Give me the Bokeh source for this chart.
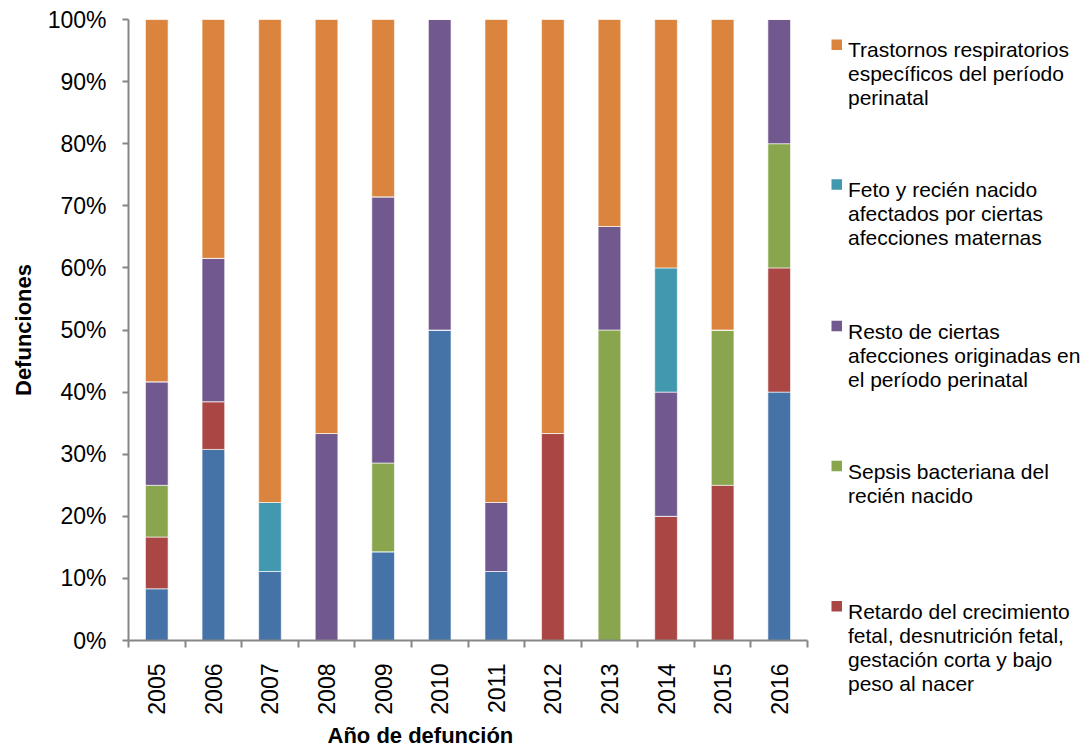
import math
from bokeh.plotting import figure
from bokeh.layouts import row
from bokeh.models import (ColumnDataSource, Range1d, FixedTicker, PrintfTickFormatter, Title)
from bokeh.core.properties import value
from bokeh.embed import file_html
from bokeh.resources import INLINE

# ---------------- data (percent of deaths per year) ----------------
years = ["2005", "2006", "2007", "2008", "2009", "2010",
         "2011", "2012", "2013", "2014", "2015", "2016"]

# stack order bottom -> top
otras = [8.33, 30.77, 11.11, 0, 14.29, 50, 11.11, 0, 0, 0, 0, 40]          # blue (entry not visible)
retardo = [8.33, 7.69, 0, 0, 0, 0, 0, 33.33, 0, 20, 25, 20]                 # red
sepsis = [8.33, 0, 0, 0, 14.29, 0, 0, 0, 50, 0, 25, 20]                     # green
resto = [16.67, 23.08, 0, 33.33, 42.86, 50, 11.11, 0, 16.67, 20, 0, 20]     # purple
feto = [0, 0, 11.11, 0, 0, 0, 0, 0, 0, 20, 0, 0]                            # teal
trastornos = [58.33, 38.46, 77.78, 66.67, 28.57, 0, 77.78, 66.67, 33.33, 40, 50, 0]  # orange

series_keys = ["otras", "retardo", "sepsis", "resto", "feto", "trastornos"]
series_colors = ["#4572A7", "#AA4643", "#89A54E", "#71588F", "#4198AF", "#DB843D"]

y_ticks = [0, 10, 20, 30, 40, 50, 60, 70, 80, 90, 100]

legend_colors = ["#DB843D", "#4198AF", "#71588F", "#89A54E", "#AA4643"]
legend_lines = [
    ["Trastornos respiratorios", "específicos del período", "perinatal"],
    ["Feto y recién nacido", "afectados por ciertas", "afecciones maternas"],
    ["Resto de ciertas", "afecciones originadas en", "el período perinatal"],
    ["Sepsis bacteriana del", "recién nacido"],
    ["Retardo del crecimiento", "fetal, desnutrición fetal,",
     "gestación corta y bajo", "peso al nacer"],
]

x_title = "Año de defunción"
y_title = "Defunciones"

# ---------------- main chart ----------------
n = len(years)
centers = [i + 0.5 for i in range(n)]
bounds = list(range(n + 1))

source = ColumnDataSource(dict(x=centers, otras=otras, retardo=retardo, sepsis=sepsis,
                               resto=resto, feto=feto, trastornos=trastornos))

FONT = "Liberation Sans"
AXIS_GRAY = "#868686"
H = 751
MW = 817
TOTAL_W = 1084

p = figure(width=MW, height=H,
           x_range=Range1d(0, n), y_range=Range1d(0, 100),
           output_backend="svg", toolbar_location=None,
           min_border_left=123, min_border_top=19, min_border_right=10,
           min_border_bottom=H - 643)
p.outline_line_color = None
p.xgrid.visible = False
p.ygrid.visible = False

p.vbar_stack(series_keys, x="x", width=0.4, color=series_colors, source=source,
             line_color="white", line_alpha=0.6, line_width=1)

# x axis: labels at centers, ticks at category boundaries
p.xaxis.ticker = FixedTicker(ticks=centers, minor_ticks=bounds)
p.xaxis.major_label_overrides = {c: y for c, y in zip(centers, years)}
p.xaxis.major_label_orientation = math.pi / 2
p.xaxis.major_tick_out = 0
p.xaxis.major_tick_in = 0
p.xaxis.minor_tick_out = 7
p.xaxis.minor_tick_in = 0
p.xaxis.minor_tick_line_color = AXIS_GRAY
p.xaxis.minor_tick_line_width = 2
p.xaxis.major_label_standoff = 16

# y axis
p.yaxis.ticker = FixedTicker(ticks=y_ticks)
p.yaxis.formatter = PrintfTickFormatter(format="%d%%")
p.yaxis.major_tick_out = 6
p.yaxis.major_tick_in = 0
p.yaxis.major_tick_line_color = AXIS_GRAY
p.yaxis.major_tick_line_width = 2
p.yaxis.minor_tick_line_color = None
p.yaxis.major_label_standoff = 16

for ax in (p.xaxis, p.yaxis):
    ax.axis_line_color = AXIS_GRAY
    ax.axis_line_width = 2
    ax.major_label_text_font = FONT
    ax.major_label_text_font_size = "23px"
    ax.major_label_text_color = "#000000"

# axis titles as side-panel titles
p.add_layout(Title(text=x_title, align="left", offset=199, standoff=7,
                   text_font=FONT, text_font_size="22px", text_font_style="bold",
                   text_color="#000000"), "below")
p.add_layout(Title(text=y_title, align="center", standoff=17,
                   text_font=FONT, text_font_size="22px", text_font_style="bold",
                   text_color="#000000"), "left")

# ---------------- legend panel (pixel-like coordinates) ----------------
LW = TOTAL_W - MW
lg = figure(width=LW, height=H, x_range=Range1d(0, LW), y_range=Range1d(H, 0),
            output_backend="svg", toolbar_location=None,
            min_border_left=0, min_border_right=0, min_border_top=0, min_border_bottom=0)
lg.axis.visible = False
lg.xgrid.visible = False
lg.ygrid.visible = False
lg.outline_line_color = None

for fig in (p, lg):
    if "frame_align" in fig.properties():
        fig.frame_align = False

first_baselines = [49.3, 189.0, 330.5, 470.5, 610.7]
line_step = 24
sq_left, sq_size = 14, 10.5
text_left = 30.5

sq = dict(left=[], right=[], top=[], bottom=[], color=[])
tx = dict(x=[], y=[], text=[])
for color, lines, base in zip(legend_colors, legend_lines, first_baselines):
    sq["left"].append(sq_left)
    sq["right"].append(sq_left + sq_size)
    sq["top"].append(base - 10.3)
    sq["bottom"].append(base + 0.3)
    sq["color"].append(color)
    for j, line in enumerate(lines):
        tx["x"].append(text_left)
        tx["y"].append(base + j * line_step)
        tx["text"].append(line)

lg.quad(left="left", right="right", top="top", bottom="bottom", color="color",
        line_color=None, source=ColumnDataSource(sq))
lg.text(x="x", y="y", text="text", source=ColumnDataSource(tx),
        text_font=value(FONT), text_font_size="21px", text_color="#000000",
        text_align="left", text_baseline="alphabetic")

layout = row(p, lg)
open("out.html", "w").write(file_html(layout, INLINE))
